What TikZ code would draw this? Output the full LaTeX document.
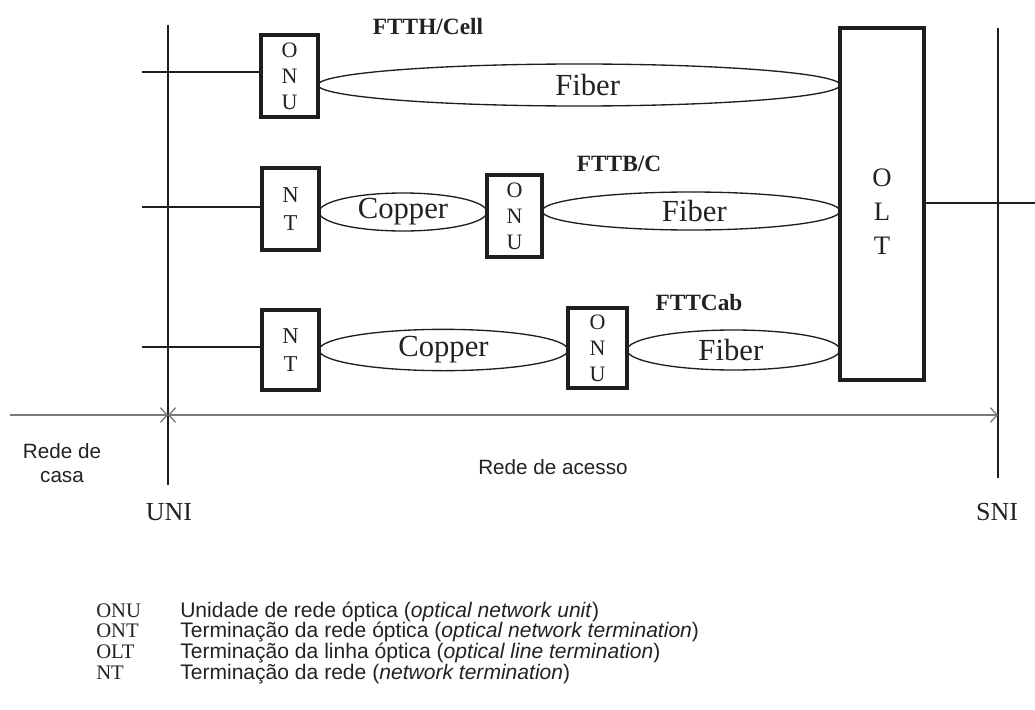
\documentclass[tikz,border=0pt]{standalone}
\usepackage{fontspec}
\setmainfont{Liberation Serif}
\setsansfont{Liberation Sans}
\usetikzlibrary{shapes.geometric,arrows.meta}
\definecolor{ink}{HTML}{1E1E1E}
\definecolor{arrowgray}{HTML}{7A7A7A}
\definecolor{txt}{HTML}{222222}
\begin{document}
\begin{tikzpicture}[x=0.75pt,y=-0.75pt,
  box/.style={draw=ink,line width=3pt,fill=white,inner sep=0pt,align=center,text=txt,
    font=\fontsize{16.5}{19.5}\selectfont},
  ntbox/.style={box,font=\fontsize{17}{21.5}\selectfont},
  oltbox/.style={box,font=\fontsize{20}{25.5}\selectfont},
  lens/.style={draw=ink,ellipse,line width=1pt,inner sep=0pt,text=txt,
    font=\fontsize{23}{25}\selectfont},
  wire/.style={draw=ink,line width=1.1pt},
  rail/.style={draw=ink,line width=1.3pt},
  dim/.style={draw=arrowgray,line width=1pt,{Straight Barb[length=5pt,width=11pt]}-{Straight Barb[length=5pt,width=11pt]}},
  dimR/.style={draw=arrowgray,line width=1pt,-{Straight Barb[length=5pt,width=11pt]}},
  tag/.style={text=txt,font=\bfseries\fontsize{17.5}{20}\selectfont},
  iface/.style={text=txt,font=\fontsize{19.5}{20}\selectfont},
  zone/.style={text=txt,font=\sffamily\fontsize{15.5}{17.5}\selectfont,align=center},
  abbr/.style={anchor=base west,text=txt,font=\fontsize{15.5}{18}\selectfont,inner sep=0pt},
  desc/.style={anchor=base west,text=txt,font=\sffamily\fontsize{15.8}{18}\selectfont,inner sep=0pt}
]
\useasboundingbox (0,0) rectangle (1035,710);

% vertical reference lines
\coordinate (uniT) at (168,25);
\coordinate (uniB) at (168,485);
\coordinate (sniT) at (998,28);
\coordinate (sniB) at (998,478);
\draw[rail] (uniT) -- (uniB);
\draw[rail] (sniT) -- (sniB);

% lenses (cables)
\node[lens,minimum width=391.5pt,minimum height=31.5pt] (fib1) at (579,85) {\hspace*{13pt}Fiber};
\node[lens,minimum width=126pt,minimum height=28.5pt] (cop2) at (403,212) {Copper};
\node[lens,minimum width=223.5pt,minimum height=28.5pt] (fib2) at (691,211) {\hspace*{5pt}Fiber};
\node[lens,minimum width=186.75pt,minimum height=31pt] (cop3) at (443.5,350) {Copper};
\node[lens,minimum width=159.75pt,minimum height=30pt] (fib3) at (733.5,350) {\hspace*{-4pt}Fiber};

% boxes
\node[box,minimum width=42.75pt,minimum height=61.5pt] (onu1) at (289.5,76) {O\\N\\U};
\node[ntbox,minimum width=42.75pt,minimum height=61.5pt] (nt2) at (290.5,209) {N\\T};
\node[box,minimum width=41.25pt,minimum height=61.5pt] (onu2) at (514.5,216) {O\\N\\U};
\node[ntbox,minimum width=42.75pt,minimum height=60pt] (nt3) at (290.5,350) {N\\T};
\node[box,minimum width=44.25pt,minimum height=60pt] (onu3) at (597.5,348) {O\\N\\U};
\node[oltbox,minimum width=63pt,minimum height=264pt] (olt) at (882,204) {};
\node[text=txt,font=\fontsize{20}{25.5}\selectfont,align=center] (oltlbl) at (882,212) {O\\L\\T};

% feeder lines
\coordinate (s1) at (142,72);
\coordinate (s2) at (142,207);
\coordinate (s3) at (142,347);
\coordinate (e1) at (1035,203);
\draw[wire] (s1) -- (s1 -| onu1.west);
\draw[wire] (s2) -- (s2 -| nt2.west);
\draw[wire] (s3) -- (s3 -| nt3.west);
\draw[wire] (olt.east |- e1) -- (e1);

% labels of the variants
\node[tag] (lblh) at (428,27) {FTTH/Cell};
\node[tag] (lblb) at (619,164) {FTTB/C};
\node[tag] (lblc) at (699,303) {FTTCab};

% dimension arrows
\coordinate (aL) at (10,415);
\coordinate (aU) at (168,415);
\coordinate (aS) at (998,415);
\draw[dimR] (aL) -- (aU);
\draw[dim] (aU) -- (aS);

\node[zone] (casa) at (62,463) {Rede de\\casa};
\node[zone] (acesso) at (553,467) {Rede de acesso};
\node[iface] (uni) at (169,512) {UNI};
\node[iface] (sni) at (997,512) {SNI};

% legend
\node[abbr] (k1) at (96,617) {ONU};
\node[abbr] (k2) at (96,637) {ONT};
\node[abbr] (k3) at (96,658) {OLT};
\node[abbr] (k4) at (96,679) {NT};
\node[desc] (d1) at (180,617) {Unidade de rede óptica (\textit{optical network unit})};
\node[desc] (d2) at (180,637) {Terminação da rede óptica (\textit{optical network termination})};
\node[desc] (d3) at (180,658) {Terminação da linha óptica (\textit{optical line termination})};
\node[desc] (d4) at (180,679) {Terminação da rede (\textit{network termination})};
\end{tikzpicture}
\end{document}
